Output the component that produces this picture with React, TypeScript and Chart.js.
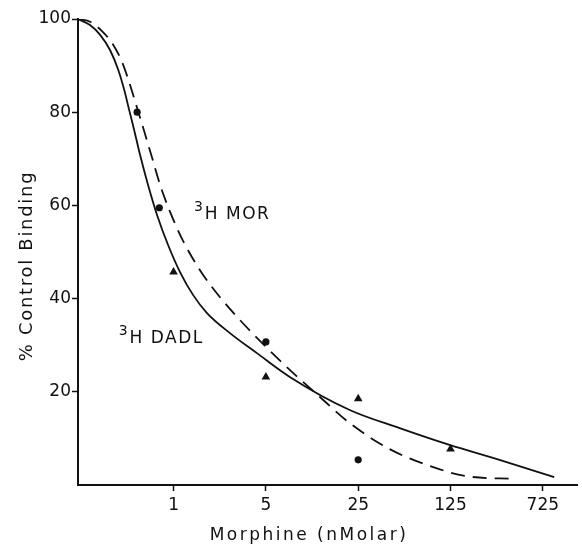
import { useEffect, useRef } from "react";
import { Chart, registerables } from "chart.js";

Chart.register(...registerables);

// ---- data (doses in nM, binding in % of control) ----
const xTickDoses = [1, 5, 25, 125, 625];
const xTickLabels = ["1", "5", "25", "125", "725"];
const yTickValues = [20, 40, 60, 80, 100];

const morDoses = [0.53, 0.78, 5, 25];
const morBinding = [80, 59.5, 30.7, 5.4];

const dadlDoses = [1, 5, 25, 125];
const dadlBinding = [45.7, 23.2, 18.5, 7.7];

const morCurveDoses = [0.189, 0.233, 0.287, 0.347, 0.407, 0.469, 0.53, 0.598, 0.688, 0.791, 0.941, 1.18, 1.585, 2.247, 3.181, 4.749, 7.585, 12.14, 21.56, 43.3, 91.3, 164.3, 393];
const morCurveBinding = [100, 99.4, 97.4, 94.6, 90.8, 85.8, 80.9, 76.0, 70.2, 64.4, 58.6, 52.4, 46.1, 40.3, 35.4, 30.3, 24.7, 19.5, 13.3, 7.7, 3.9, 1.9, 1.3];

const dadlCurveDoses = [0.189, 0.233, 0.278, 0.331, 0.381, 0.423, 0.461, 0.503, 0.558, 0.641, 0.751, 0.909, 1.119, 1.404, 1.791, 2.673, 4.277, 7.585, 21.56, 51.5, 122.8, 293.5, 762];
const dadlCurveBinding = [100, 98.7, 96.6, 93.3, 89.1, 84.8, 80.5, 76.2, 70.8, 64.4, 57.9, 51.5, 45.7, 40.8, 36.9, 32.6, 28.3, 23.2, 16.1, 12.2, 8.6, 5.4, 1.7];

const seriesLabels = [
  { sup: "3", text: "H MOR", dose: 1.425, binding: 57.1 },
  { sup: "3", text: "H DADL", dose: 0.384, binding: 30.5 },
];

const xTitle = "Morphine (nMolar)";
const yTitle = "% Control Binding";

const INK = "#111";
const FONT = '"DejaVu Sans", sans-serif';

const toXY = (xs: number[], ys: number[]) => xs.map((x, i) => ({ x, y: ys[i] }));

const annotPlugin = {
  id: "annot",
  afterDraw(chart: any) {
    const { ctx, scales } = chart;
    const xs = scales.x;
    const ys = scales.y;
    ctx.save();
    ctx.fillStyle = INK;
    ctx.textBaseline = "alphabetic";

    // x title
    ctx.font = `17px ${FONT}`;
    (ctx as any).letterSpacing = "2.5px";
    ctx.textAlign = "center";
    ctx.fillText(xTitle, 309, 540);

    // y title
    ctx.save();
    ctx.translate(32, 266);
    ctx.rotate(-Math.PI / 2);
    ctx.font = `18px ${FONT}`;
    (ctx as any).letterSpacing = "1.7px";
    ctx.textAlign = "center";
    ctx.fillText(yTitle, 0, 0);
    ctx.restore();

    // series labels
    ctx.textAlign = "left";
    for (const l of seriesLabels) {
      const px = xs.getPixelForValue(l.dose);
      const py = ys.getPixelForValue(l.binding);
      ctx.font = `14px ${FONT}`;
      (ctx as any).letterSpacing = "0px";
      ctx.fillText(l.sup, px, py - 8);
      const w = ctx.measureText(l.sup).width;
      ctx.font = `17px ${FONT}`;
      (ctx as any).letterSpacing = "1.5px";
      ctx.fillText(l.text, px + w + 2, py);
    }
    ctx.restore();
  },
};

export default function App() {
  const ref = useRef<HTMLCanvasElement>(null);

  useEffect(() => {
    if (!ref.current) return;
    const chart = new Chart(ref.current, {
      type: "scatter",
      data: {
        datasets: [
          {
            label: "3H DADL curve",
            data: toXY(dadlCurveDoses, dadlCurveBinding),
            showLine: true,
            borderColor: INK,
            borderWidth: 1.8,
            pointRadius: 0,
            cubicInterpolationMode: "monotone",
          } as any,
          {
            label: "3H MOR curve",
            data: toXY(morCurveDoses, morCurveBinding),
            showLine: true,
            borderColor: INK,
            borderWidth: 1.8,
            borderDash: [14, 8],
            pointRadius: 0,
            cubicInterpolationMode: "monotone",
          } as any,
          {
            label: "3H MOR",
            data: toXY(morDoses, morBinding),
            pointStyle: "circle",
            pointRadius: 3.6,
            backgroundColor: INK,
            borderColor: INK,
            borderWidth: 0,
          },
          {
            label: "3H DADL",
            data: toXY(dadlDoses, dadlBinding),
            pointStyle: "triangle",
            pointRadius: 5,
            backgroundColor: INK,
            borderColor: INK,
            borderWidth: 0,
          },
        ],
      },
      options: {
        animation: false,
        responsive: false,
        layout: { padding: { top: 19, right: 4, left: 0, bottom: 0 } },
        plugins: { legend: { display: false }, tooltip: { enabled: false } },
        scales: {
          x: {
            type: "logarithmic",
            min: 0.189,
            max: 1134,
            afterBuildTicks: (s: any) => {
              s.ticks = xTickDoses.map((v) => ({ value: v }));
            },
            afterFit: (s: any) => {
              s.height = 61;
            },
            ticks: {
              autoSkip: false,
              maxRotation: 0,
              padding: 4,
              color: INK,
              font: { family: FONT, size: 17 },
              callback: (_v: any, i: number) => xTickLabels[i],
            },
            grid: {
              drawOnChartArea: false,
              drawTicks: true,
              tickLength: 6,
              tickColor: INK,
              tickWidth: 1.5,
            },
            border: { display: true, color: INK, width: 2 },
          },
          y: {
            type: "linear",
            min: 0,
            max: 100,
            afterBuildTicks: (s: any) => {
              s.ticks = yTickValues.map((v) => ({ value: v }));
            },
            afterFit: (s: any) => {
              s.width = 78;
            },
            ticks: {
              padding: 1,
              color: INK,
              font: { family: FONT, size: 17 },
            },
            grid: {
              drawOnChartArea: false,
              drawTicks: true,
              tickLength: 6,
              tickColor: INK,
              tickWidth: 1.5,
            },
            border: { display: true, color: INK, width: 2 },
          },
        },
      },
      plugins: [annotPlugin],
    });
    return () => chart.destroy();
  }, []);

  return (
    <div style={{ position: "fixed", left: 0, top: 0, width: 582, height: 546, background: "#fff" }}>
      <canvas ref={ref} width={582} height={546} style={{ display: "block" }} />
    </div>
  );
}
